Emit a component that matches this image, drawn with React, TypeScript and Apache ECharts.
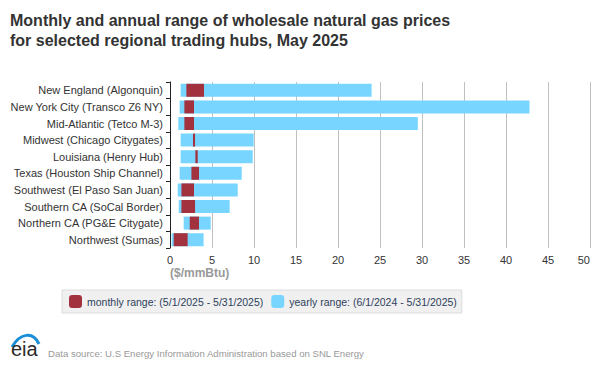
import React, { useEffect, useRef } from "react";
import * as echarts from "echarts";

const hubs = [
  "New England (Algonquin)",
  "New York City (Transco Z6 NY)",
  "Mid-Atlantic (Tetco M-3)",
  "Midwest (Chicago Citygates)",
  "Louisiana (Henry Hub)",
  "Texas (Houston Ship Channel)",
  "Southwest (El Paso San Juan)",
  "Southern CA (SoCal Border)",
  "Northern CA (PG&E Citygate)",
  "Northwest (Sumas)",
];
const yearlyLow = [1.27, 1.15, 0.99, 1.27, 1.27, 1.15, 0.92, 1.04, 1.63, 0.2];
const yearlyHigh = [24.0, 42.8, 29.5, 9.96, 9.85, 8.54, 8.06, 7.1, 4.85, 4.0];
const monthlyLow = [1.95, 1.71, 1.71, 2.74, 3.02, 2.55, 1.36, 1.36, 2.35, 0.44];
const monthlyHigh = [4.05, 2.86, 2.86, 2.98, 3.3, 3.45, 2.86, 2.98, 3.45, 2.1];

const monthlyName = "monthly range: (5/1/2025 - 5/31/2025)";
const yearlyName = "yearly range: (6/1/2024 - 5/31/2025)";

const RED = "#a3323f";
const BLUE = "#77d5ff";
const FONT = "Liberation Sans, Arial, sans-serif";

export default function App() {
  const ref = useRef<HTMLDivElement>(null);
  useEffect(() => {
    if (!ref.current) return;
    const chart = echarts.init(ref.current, null, { renderer: "svg" });
    const yearlyRange = yearlyHigh.map((h, i) => +(h - yearlyLow[i]).toFixed(3));
    const monthlyRange = monthlyHigh.map((h, i) => +(h - monthlyLow[i]).toFixed(3));
    chart.setOption({
      animation: false,
      backgroundColor: "#fff",
      textStyle: { fontFamily: FONT },
      grid: { left: 170, right: 10, top: 82, bottom: 122, containLabel: false },
      xAxis: {
        type: "value",
        min: 0,
        max: 50,
        interval: 5,
        axisLine: { show: false },
        axisTick: { show: false },
        axisLabel: {
          color: "#333",
          fontSize: 11,
          margin: 6,
          fontFamily: FONT,
          alignMaxLabel: "right",
        },
        splitLine: { show: true, lineStyle: { color: "#c0c0c0", width: 1 } },
      },
      yAxis: {
        type: "category",
        inverse: true,
        data: hubs,
        axisLine: { show: true, lineStyle: { color: "#222", width: 1 } },
        axisTick: { show: true, length: 4, lineStyle: { color: "#222" } },
        axisLabel: { color: "#333", fontSize: 11, margin: 7, fontFamily: FONT },
        splitLine: { show: false },
      },
      legend: {
        data: [
          { name: monthlyName, icon: "roundRect" },
          { name: yearlyName, icon: "roundRect" },
        ],
        left: 62,
        top: 290,
        backgroundColor: "#f0f0f0",
        borderColor: "#dcdcdc",
        borderWidth: 1,
        borderRadius: 0,
        padding: [5, 5, 5, 7],
        itemWidth: 13,
        itemHeight: 13,
        itemGap: 8,
        textStyle: { color: "#2e3f5c", fontSize: 10.5, fontFamily: FONT },
      },
      series: [
        {
          name: "ybase",
          type: "bar",
          stack: "y",
          data: yearlyLow,
          barWidth: 13,
          barGap: "-100%",
          itemStyle: { color: "transparent" },
          silent: true,
        },
        {
          name: yearlyName,
          type: "bar",
          stack: "y",
          data: yearlyRange,
          barWidth: 13,
          barGap: "-100%",
          itemStyle: { color: BLUE },
        },
        {
          name: "mbase",
          type: "bar",
          stack: "m",
          data: monthlyLow,
          barWidth: 13,
          barGap: "-100%",
          itemStyle: { color: "transparent" },
          silent: true,
        },
        {
          name: monthlyName,
          type: "bar",
          stack: "m",
          data: monthlyRange,
          barWidth: 13,
          barGap: "-100%",
          itemStyle: { color: RED },
        },
      ],
      graphic: [
        {
          type: "text",
          left: 10,
          top: 10,
          style: {
            text: "Monthly and annual range of wholesale natural gas prices\nfor selected regional trading hubs, May 2025",
            font: `bold 16px ${FONT}`,
            fill: "#333",
            lineHeight: 20,
          },
        },
        {
          type: "text",
          left: 170,
          top: 267,
          style: {
            text: "($/mmBtu)",
            font: `bold 12px ${FONT}`,
            fill: "#999",
          },
        },
        {
          type: "bezierCurve",
          shape: { x1: 12, y1: 347, cpx1: 20, cpy1: 333, cpx2: 33, cpy2: 331, x2: 39, y2: 344 },
          style: { stroke: "#1a8fd8", lineWidth: 3, fill: "none" },
        },
        {
          type: "text",
          left: 11,
          top: 339,
          style: {
            text: "eia",
            font: `20px ${FONT}`,
            fill: "#2a2a2a",
          },
        },
        {
          type: "text",
          left: 48,
          top: 348,
          style: {
            text: "Data source: U.S Energy Information Administration based on SNL Energy",
            font: `9.6px ${FONT}`,
            fill: "#999",
          },
        },
      ],
    });
    return () => chart.dispose();
  }, []);
  return <div ref={ref} style={{ width: 600, height: 370, margin: -8 }} />;
}
